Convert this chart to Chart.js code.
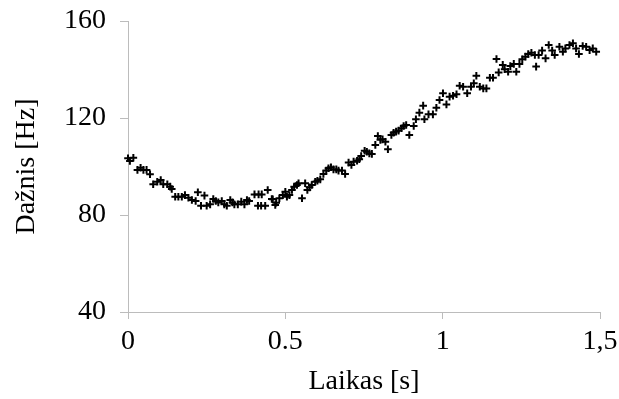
<!DOCTYPE html>
<html>
<head>
<meta charset="utf-8">
<script src="https://cdn.jsdelivr.net/npm/chart.js@4/dist/chart.umd.min.js"></script>
<style>
  html, body { margin: 0; padding: 0; background: #fff; }
  #wrap { width: 619px; height: 399px; }
</style>
</head>
<body>
<div id="wrap"><canvas id="chart" width="619" height="399"></canvas></div>
<script>
// time [s]
const times = [
  0.000, 0.006, 0.017, 0.030, 0.040, 0.049, 0.059, 0.070, 0.080, 0.093,
  0.104, 0.112, 0.125, 0.134, 0.139, 0.150, 0.160, 0.171, 0.181, 0.192,
  0.203, 0.215, 0.222, 0.232, 0.243, 0.250, 0.261, 0.271, 0.279, 0.287,
  0.298, 0.306, 0.314, 0.325, 0.332, 0.338, 0.349, 0.360, 0.370, 0.378,
  0.385, 0.402, 0.413, 0.415, 0.423, 0.425, 0.436, 0.444, 0.457, 0.460,
  0.468, 0.471, 0.481, 0.492, 0.500, 0.505, 0.513, 0.521, 0.528, 0.537,
  0.542, 0.553, 0.563, 0.570, 0.577, 0.584, 0.595, 0.602, 0.611, 0.621,
  0.630, 0.637, 0.645, 0.653, 0.662, 0.669, 0.680, 0.690, 0.701, 0.710,
  0.717, 0.728, 0.735, 0.741, 0.752, 0.759, 0.767, 0.775, 0.786, 0.794,
  0.802, 0.809, 0.818, 0.826, 0.837, 0.844, 0.852, 0.860, 0.869, 0.876,
  0.884, 0.894, 0.908, 0.915, 0.926, 0.938, 0.942, 0.955, 0.969, 0.980,
  0.990, 1.001, 1.012, 1.022, 1.033, 1.044, 1.054, 1.065, 1.078, 1.090,
  1.099, 1.107, 1.118, 1.129, 1.139, 1.150, 1.160, 1.171, 1.178, 1.191,
  1.197, 1.208, 1.215, 1.226, 1.234, 1.244, 1.253, 1.263, 1.272, 1.282,
  1.293, 1.297, 1.305, 1.316, 1.327, 1.337, 1.348, 1.356, 1.371, 1.382,
  1.390, 1.403, 1.414, 1.424, 1.433, 1.445, 1.456, 1.467, 1.477, 1.488
];

// frequency [Hz]
const freqs = [
  103.4, 102.3, 103.6, 98.6, 99.5, 98.6, 98.6, 96.8, 92.7, 93.7,
  94.4, 92.7, 92.7, 91.7, 90.7, 87.5, 87.5, 87.5, 88.2, 87.1,
  86.2, 85.8, 89.4, 83.8, 88.0, 83.8, 84.4, 86.6, 85.8, 85.2,
  85.8, 84.4, 83.8, 86.2, 85.2, 84.4, 84.4, 85.5, 84.4, 86.2,
  85.8, 88.5, 83.8, 88.5, 83.8, 88.5, 83.8, 90.3, 86.6, 86.5,
  84.1, 85.1, 86.9, 88.2, 89.6, 87.5, 88.2, 90.3, 91.7, 92.4,
  93.1, 86.9, 93.1, 90.3, 91.4, 92.4, 93.7, 94.1, 94.7, 96.9,
  98.3, 99.3, 99.7, 98.8, 98.8, 98.3, 98.3, 96.9, 101.6, 100.6,
  102.0, 102.4, 103.0, 104.3, 106.5, 106.1, 105.4, 105.2, 108.9, 112.6,
  111.0, 111.2, 110.2, 107.1, 113.0, 113.9, 114.4, 114.8, 115.8, 116.7,
  117.1, 113.0, 116.7, 119.5, 122.2, 125.1, 119.5, 121.5, 121.5, 124.2,
  127.4, 130.2, 125.6, 128.8, 129.2, 129.8, 133.3, 132.9, 130.2, 132.9,
  134.3, 137.4, 132.9, 132.2, 132.2, 136.6, 136.6, 144.3, 138.8, 141.9,
  140.1, 139.1, 141.4, 142.3, 139.1, 142.3, 144.2, 145.3, 146.4, 146.9,
  146.0, 141.2, 146.0, 147.8, 144.6, 150.1, 147.8, 146.0, 149.4, 147.3,
  148.7, 150.1, 150.8, 148.7, 146.4, 149.7, 149.4, 148.0, 148.7, 147.3
];

const yTicks = [40, 80, 120, 160];
const xTicks = [0, 0.5, 1, 1.5];
const xTickLabels = ['0', '0.5', '1', '1,5'];

const font = { family: '"Liberation Serif", "Times New Roman", serif', size: 28 };
const axisGray = '#bcbcbc';

new Chart(document.getElementById('chart'), {
    type: 'scatter',
    data: {
        datasets: [{
            data: times.map((t, i) => ({ x: t, y: freqs[i] })),
            pointStyle: 'cross',
            radius: 3.8,
            borderWidth: 2,
            borderColor: '#000',
            backgroundColor: '#000',
            clip: false
        }]
    },
    options: {
        responsive: false,
        animation: false,
        events: [],
        layout: { padding: { left: 0, top: 21, right: 19, bottom: 0 } },
        plugins: { legend: { display: false }, tooltip: { enabled: false } },
        scales: {
            x: {
                type: 'linear',
                min: 0,
                max: 1.5,
                afterBuildTicks: (axis) => { axis.ticks = xTicks.map(v => ({ value: v })); },
                afterFit: (scale) => { scale.height = 87; scale.paddingLeft = 0; scale.paddingRight = 0; },
                ticks: {
                    color: '#000',
                    font: font,
                    padding: 6,
                    maxRotation: 0,
                    callback: (v) => xTickLabels[xTicks.indexOf(v)]
                },
                grid: { drawOnChartArea: false, color: axisGray, tickLength: 7, lineWidth: 1 },
                border: { color: axisGray, width: 1 },
                title: { display: true, text: 'Laikas [s]', color: '#000', font: font, padding: { top: 2, bottom: 1 } }
            },
            y: {
                min: 40,
                max: 160,
                afterBuildTicks: (axis) => { axis.ticks = yTicks.map(v => ({ value: v })); },
                afterFit: (scale) => { scale.width = 128; scale.paddingTop = 0; scale.paddingBottom = 0; },
                ticks: { color: '#000', font: font, padding: 14 },
                grid: { drawOnChartArea: false, color: axisGray, tickLength: 8, lineWidth: 1 },
                border: { color: axisGray, width: 1 },
                title: { display: true, text: 'Dažnis [Hz]', color: '#000', font: font, padding: { top: 10, bottom: 4 } }
            }
        }
    }
});
</script>
</body>
</html>
